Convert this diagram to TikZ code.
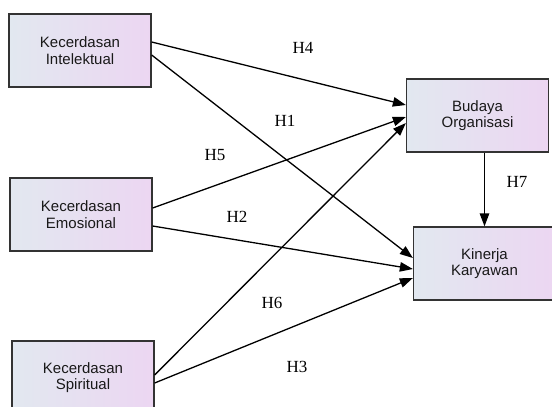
\documentclass[tikz,border=0pt]{standalone}
\usepackage{fontspec}
\setmainfont{Liberation Serif}
\newfontfamily\boxfont{Liberation Sans}
\usetikzlibrary{arrows.meta}

\begin{document}
\begin{tikzpicture}[>={Triangle[length=13pt,width=9.5pt]},x=1pt,y=-1pt]
\tikzstyle{v}=[draw=black!80,line width=1.3pt,left color={rgb,255:red,226;green,232;blue,240},right color={rgb,255:red,236;green,214;blue,242},minimum width=142pt,minimum height=73pt,inner sep=0pt,align=center,text=black!90,font=\boxfont\fontsize{15}{16.5}\selectfont]
\tikzstyle{h}=[font=\fontsize{17}{19}\selectfont]
\useasboundingbox (0,0) rectangle (552,407);
% variables
\node[v] (ki) at (80,50.5) {Kecerdasan\\Intelektual};
\node[v] (ke) at (81,214.5) {Kecerdasan\\Emosional};
\node[v] (ks) at (83,377.5) {Kecerdasan\\Spiritual};
\node[v] (bo) at (477.5,115.5) {Budaya\\Organisasi};
\node[v] (kk) at (484.5,263.5) {Kinerja\\Karyawan};
% paths
\foreach \s/\a/\t/\b in {ki/8.5/bo/10.5,ki/-4.5/kk/5.5,ke/6.5/bo/-1.5,ke/-11.5/kk/-5.5,ks/2.5/bo/-7.5,ks/-5.5/kk/-14.5} { \draw[->,line width=1.3pt] ([yshift=\a pt]\s.east) -- ([yshift=\b pt]\t.west); }
\draw[->,line width=1.3pt] (kk.north |- bo.south) -- (kk.north);
% hypotheses
\foreach \n/\p in {H4/{(303,48)},H1/{(285,121)},H5/{(215,155)},H2/{(237,217)},H6/{(272,303)},H3/{(297,367)},H7/{(517,182)}} { \node[h] (\n) at \p {\n}; }
\end{tikzpicture}
\end{document}
